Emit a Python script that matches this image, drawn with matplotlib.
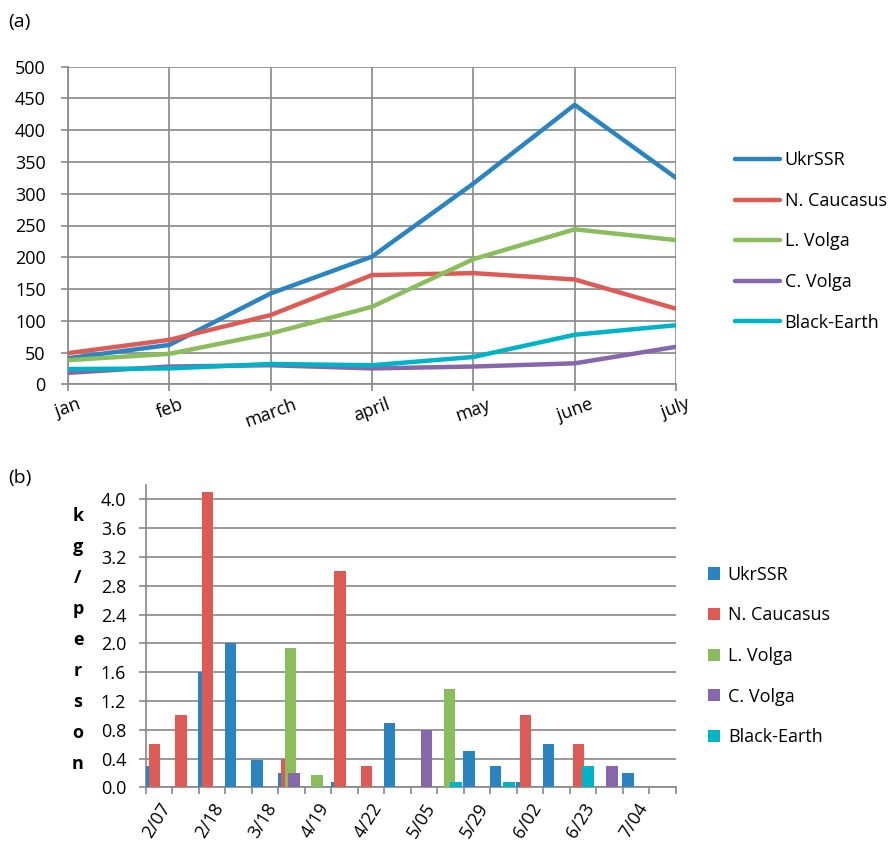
import numpy as np
import matplotlib
matplotlib.use('Agg')
import matplotlib.pyplot as plt

plt.rcParams['font.family'] = ['Open Sans', 'DejaVu Sans']

# (a) monthly series
months = ['jan', 'feb', 'march', 'april', 'may', 'june', 'july']
ukr = [41, 62, 143, 201, 316, 440, 325]
caucasus = [49, 70, 109, 172, 175, 165, 119]
lvolga = [38, 48, 80, 122, 197, 244, 227]
cvolga = [18, 28, 30, 25, 28, 33, 59]
blackearth = [24, 25, 32, 30, 43, 78, 93]

# (b) kg/person per date
dates = ['2/07', '', '2/18', '', '3/18', '', '4/19', '', '4/22', '',
         '5/05', '', '5/29', '', '6/02', '', '6/23', '', '7/04', '']
ukr_b = [0.3, 0, 1.6, 2.0, 0.38, 0.2, 0, 0.08, 0, 0.9,
         0, 0, 0.5, 0.3, 0.08, 0.6, 0, 0, 0.2, 0]
caucasus_b = [0.6, 1.0, 4.1, 0, 0, 0.4, 0, 3.0, 0.3, 0,
              0, 0, 0, 0, 1.0, 0, 0.6, 0, 0, 0]
lvolga_b = [0, 0, 0, 0, 0, 1.94, 0.17, 0, 0, 0,
            0, 1.36, 0, 0, 0, 0, 0, 0, 0, 0]
cvolga_b = [0, 0, 0, 0, 0, 0.2, 0, 0, 0, 0,
            0.8, 0, 0, 0, 0, 0, 0, 0.3, 0, 0]
blackearth_b = [0, 0, 0, 0, 0, 0, 0, 0, 0, 0,
                0, 0.08, 0, 0.08, 0, 0, 0.3, 0, 0, 0]

names = ['UkrSSR', 'N. Caucasus', 'L. Volga', 'C. Volga', 'Black-Earth']
colors = ['#2a84c2', '#dd5a55', '#8abd5b', '#8667ab', '#00b4c8']
gridcol = '#888888'
fs = 13

fig = plt.figure(figsize=(8.92, 8.42), dpi=100)

# ---- (a) line chart
axa = fig.add_axes([68/892, 1-384.3/842, 608/892, 317.6/842])
x = np.arange(len(months))
for vals, name, c in zip([ukr, caucasus, lvolga, cvolga, blackearth], names, colors):
    axa.plot(x, vals, color=c, lw=3.2, label=name, solid_capstyle='round', zorder=3)
axa.set_xlim(0, 6)
axa.set_ylim(0, 500)
axa.set_yticks(np.arange(0, 501, 50))
axa.set_xticks(x)
axa.set_xticklabels(months, rotation=20, ha='center')
axa.grid(True, color=gridcol, lw=1.2)
for s in ['top', 'right']:
    axa.spines[s].set_visible(False)
for s in ['left', 'bottom']:
    axa.spines[s].set_color(gridcol)
    axa.spines[s].set_linewidth(1.2)
axa.tick_params(axis='both', colors=gridcol, length=5, width=1.2, labelsize=fs,
                labelcolor='black')
axa.tick_params(axis='y', pad=11)
axa.tick_params(axis='x', pad=3)
fig.legend(*axa.get_legend_handles_labels(), loc='center left',
           bbox_to_anchor=(735/892, 1-241.5/842), frameon=False, fontsize=fs,
           handlelength=2.5, handletextpad=0.25, labelspacing=1.25,
           borderpad=0, borderaxespad=0)
fig.text(8/892, 1-22/842, '(a)', fontsize=14, ha='left', va='center')

# ---- (b) bar chart
axb = fig.add_axes([145.7/892, 1-787.3/842, 530/892, 302.3/842])
xb = np.arange(len(dates))
offsets = [-0.30, -0.17, -0.03, 0.09, 0.20]
for vals, name, c, off in zip([ukr_b, caucasus_b, lvolga_b, cvolga_b, blackearth_b],
                              names, colors, offsets):
    axb.bar(xb + off, vals, width=0.44, color=c, label=name, zorder=3)
axb.set_xlim(-0.5, len(dates) - 0.5)
axb.set_ylim(0, 4.2)
axb.set_yticks(np.arange(0, 4.01, 0.4))
axb.set_yticklabels(['%.1f' % v for v in np.arange(0, 4.01, 0.4)])
axb.set_xticks(np.arange(-0.5, len(dates), 1))
axb.set_xticklabels([])
axb.set_xticks(xb, minor=True)
axb.set_xticklabels(dates, minor=True, rotation=58, ha='right', va='top',
                    rotation_mode='anchor')
axb.yaxis.grid(True, color=gridcol, lw=1.2)
axb.set_axisbelow(True)
for s in ['top', 'right']:
    axb.spines[s].set_visible(False)
for s in ['left', 'bottom']:
    axb.spines[s].set_color(gridcol)
    axb.spines[s].set_linewidth(1.2)
axb.tick_params(axis='both', which='major', colors=gridcol, length=5, width=1.2,
                labelsize=fs, labelcolor='black')
axb.tick_params(axis='y', pad=9)
axb.tick_params(axis='x', which='minor', length=0, labelsize=fs, pad=9)
fig.legend(*axb.get_legend_handles_labels(), loc='center left',
           bbox_to_anchor=(708/892, 1-656/842), frameon=False, fontsize=fs,
           handlelength=0.65, handleheight=0.65, handletextpad=0.45,
           labelspacing=1.25, borderpad=0, borderaxespad=0)
fig.text(8/892, 1-478/842, '(b)', fontsize=14, ha='left', va='center')
fig.text(78/892, 1-640/842, '\n'.join('kg/person'), fontsize=fs,
         fontweight='bold', ha='center', va='center', linespacing=1.93)

fig.savefig('out.png', dpi=100)
